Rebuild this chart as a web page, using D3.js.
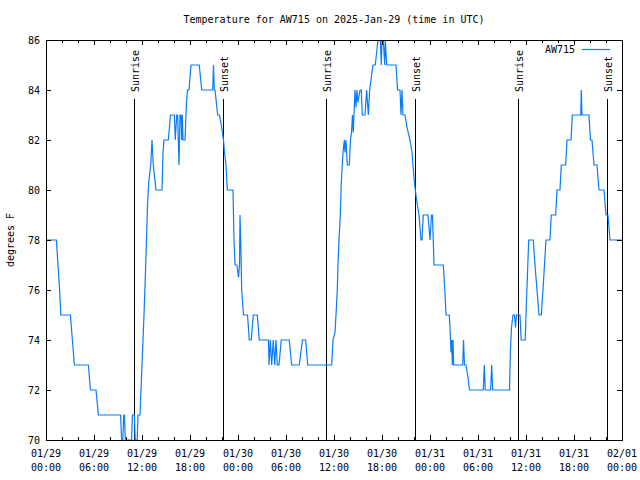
<!DOCTYPE html>
<html><head><meta charset="utf-8">
<script src="https://cdn.jsdelivr.net/npm/d3@7"></script>
<style>
body{margin:0;background:#fff}
svg text{font-family:"DejaVu Sans Mono","Liberation Mono",monospace;font-size:10px;fill:#000}
</style></head><body>
<svg id="c" width="640" height="480"></svg>
<script>
const chartTitle = "Temperature for AW715 on 2025-Jan-29 (time in UTC)";
const yLabel = "degrees F";
const seriesName = "AW715";
const startUtc = "2025-01-29T00:00:00Z";
const spanHours = 72;
// hours since start (UTC) and temperature in F
const hours = [0,1.3,1.5,1.7,1.85,3.05,3.3,3.55,5.3,5.55,6.25,6.55,9.33,9.45,9.6,9.72,9.8,9.92,10.7,10.8,11.05,11.15,11.4,11.5,11.75,
11.875,12.0,12.125,12.25,12.41,12.56,12.69,12.84,13.09,13.25,13.41,13.75,14.5,14.625,14.75,15.29,15.56,16.04,16.16,16.34,16.46,16.625,16.75,16.875,16.96,17.04,17.125,17.375,17.56,17.69,17.875,18.125,19.16,19.46,20.84,20.94,21.04,21.125,21.46,21.69,21.96,22.19,22.31,22.5,22.66,23.375,23.5,23.625,23.875,24.06,24.19,24.25,24.34,24.46,24.69,25.19,25.41,25.66,25.91,26.41,26.66,27.81,
27.875,28.04,28.21,28.41,28.59,28.75,28.91,29.125,29.41,30.41,30.71,31.66,32.06,32.46,32.71,35.71,
35.875,36.125,36.25,36.41,36.5,36.625,36.79,36.91,37.125,37.29,37.375,37.5,37.66,37.91,38.06,38.19,38.31,38.41,38.5,38.625,38.75,38.875,39.0,39.25,39.41,39.54,39.875,40.08,40.29,40.46,40.66,40.875,41.16,41.5,41.79,41.91,42.0,42.16,42.34,42.41,42.59,42.91,43.75,43.94,44.25,44.375,44.5,44.625,44.875,45.125,45.5,45.75,46.0,46.16,46.375,46.625,46.875,47.0,47.16,47.75,48.0,48.19,48.31,48.5,49.66,49.85,50.0,50.41,50.5,50.625,50.71,50.79,50.875,50.96,52.09,52.19,52.31,52.5,52.75,52.94,54.66,54.79,54.91,55.58,55.71,55.84,57.94,
58.04,58.19,58.375,58.56,58.69,58.81,59.06,59.25,59.4,59.65,59.9,60.05,60.17,60.34,60.91,61.125,61.375,61.625,61.91,62.125,62.31,62.5,63.0,63.16,63.71,63.875,64.25,64.41,64.96,65.125,65.625,65.79,66.84,66.91,67.0,67.875,68.06,68.25,68.5,68.875,69.125,69.75,70.0,70.25,70.5,72];
const tempF = [78,78,77,76,75,75,74,73,73,72,72,71,71,70,70,71,71,70,70,71,71,70,70,71,71,
72,73,74,75,76.5,78,79.4,80.3,81,82,81,80,80,81.5,82,82,83,83,82,83,83,81,83,83,82,83,82,82,83.5,84,84,85,85,84,84,85,84,84,83,83,82.5,82,81.5,81,80,80,78,77,77,76.5,77,79,78,76,75,75,74,74,75,75,74,74,
73,74,73,74,73,74,73,73,74,74,73,73,74,74,73,73,
74,74.3,75,76,77,78,79,80.3,81.5,82,81.5,82,81,81,82,82.3,83,82.3,83,84,83.3,84,83.5,84,84,83,83,84,83,84,84.5,85,85,86,86,85,86,86,85,86,85,85,85,84,84,83,84,83,83,82.5,82,81.5,80.5,80,79.5,79,78,78,79,79,78,79,79,77,77,76,75,75,74.5,73.5,74,73,74,73,73,74,73,73,72.5,72,72,73,72,72,73,72,72,
73.5,74.5,75,75,74.5,75,75,75,74,74,74,75.5,76.5,78,78,77,76,75,75,76,77,78,78,79,79,80,80,81,81,82,82,83,83,84,83,83,82,82,81,81,80,80,79,79,78,78];
const sunHours = [11.0, 22.16, 35.04, 46.16, 58.94, 70.16];
const sunLabels = ["Sunrise","Sunset","Sunrise","Sunset","Sunrise","Sunset"];
const yTickValues = [70,72,74,76,78,80,82,84,86];
const xMajorStepHours = 6;
const xMinorStepHours = 2;

const W = 640, H = 480;
const m = {left:46, right:622, top:40, bottom:440};
const t0 = new Date(startUtc);
const toDate = h => new Date(t0.getTime() + h*3600e3);
const x = d3.scaleUtc().domain([t0, toDate(spanHours)]).range([m.left, m.right]);
const y = d3.scaleLinear().domain([70, 86]).range([m.bottom, m.top]);
const data = hours.map((h,i)=>({t:toDate(h), v:tempF[i]}));

const svg = d3.select("#c");
svg.append("rect").attr("width",W).attr("height",H).attr("fill","#fff");

svg.append("defs").append("clipPath").attr("id","clip")
  .append("rect").attr("x",m.left).attr("y",m.top).attr("width",m.right-m.left).attr("height",m.bottom-m.top);

// sunrise / sunset markers
const sun = svg.append("g");
sunHours.forEach((h,i)=>{
  const sx = Math.round(x(toDate(h)))+0.5;
  sun.append("line").attr("x1",sx).attr("x2",sx).attr("y1",99).attr("y2",m.bottom)
    .attr("stroke","#000").attr("stroke-width",1).attr("shape-rendering","crispEdges");
  sun.append("text").attr("transform",`translate(${sx+4},92) rotate(-90)`)
    .attr("text-anchor","start").text(sunLabels[i]);
});

// data line
svg.append("path").datum(data)
  .attr("clip-path","url(#clip)")
  .attr("fill","none").attr("stroke","#0a7cf5").attr("stroke-width",1.2)
  .attr("stroke-linejoin","miter")
  .attr("d", d3.line().x(d=>x(d.t)).y(d=>y(d.v)));

// axes using d3 axis generators
const fmtD = d3.utcFormat("%m/%d"), fmtT = d3.utcFormat("%H:%M");
const majorTicks = d3.range(0, spanHours+0.1, xMajorStepHours).map(toDate);
const minorTicks = d3.range(0, spanHours+0.1, xMinorStepHours).map(toDate);

function styleAxis(g){ g.select(".domain").remove(); g.selectAll("line").attr("stroke","#000").attr("shape-rendering","crispEdges"); }

svg.append("g").attr("transform",`translate(0,${m.bottom})`)
  .call(d3.axisTop(x).tickValues(minorTicks).tickSize(3).tickFormat(""))
  .call(styleAxis);
svg.append("g").attr("transform",`translate(0,${m.bottom})`)
  .call(d3.axisTop(x).tickValues(majorTicks).tickSize(5).tickFormat(""))
  .call(styleAxis);
svg.append("g").attr("transform",`translate(0,${m.top})`)
  .call(d3.axisBottom(x).tickValues(minorTicks).tickSize(3).tickFormat(""))
  .call(styleAxis);
svg.append("g").attr("transform",`translate(0,${m.top})`)
  .call(d3.axisBottom(x).tickValues(majorTicks).tickSize(5).tickFormat(""))
  .call(styleAxis);
svg.append("g").attr("transform",`translate(${m.left},0)`)
  .call(d3.axisRight(y).tickValues(yTickValues).tickSize(5).tickFormat(""))
  .call(styleAxis);
svg.append("g").attr("transform",`translate(${m.right},0)`)
  .call(d3.axisLeft(y).tickValues(yTickValues).tickSize(5).tickFormat(""))
  .call(styleAxis);

// tick labels
const xl = svg.append("g");
majorTicks.forEach(d=>{
  const tx = x(d);
  xl.append("text").attr("x",tx).attr("y",457).attr("text-anchor","middle").text(fmtD(d));
  xl.append("text").attr("x",tx).attr("y",471).attr("text-anchor","middle").text(fmtT(d));
});
yTickValues.forEach(v=>{
  svg.append("text").attr("x",40).attr("y",y(v)+4).attr("text-anchor","end").text(v);
});

// border
svg.append("rect").attr("x",m.left+0.5).attr("y",m.top+0.5)
  .attr("width",m.right-m.left).attr("height",m.bottom-m.top)
  .attr("fill","none").attr("stroke","#000").attr("stroke-width",1).attr("shape-rendering","crispEdges");

// title & axis label
svg.append("text").attr("x",(m.left+m.right)/2).attr("y",23).attr("text-anchor","middle").text(chartTitle);
svg.append("text").attr("transform",`translate(14,240) rotate(-90)`).attr("text-anchor","middle").text(yLabel);

// legend
svg.append("text").attr("x",575).attr("y",53).attr("text-anchor","end").text(seriesName);
svg.append("line").attr("x1",582).attr("x2",610).attr("y1",49.5).attr("y2",49.5)
  .attr("stroke","#0a7cf5").attr("stroke-width",1.2);
</script>
</body></html>
